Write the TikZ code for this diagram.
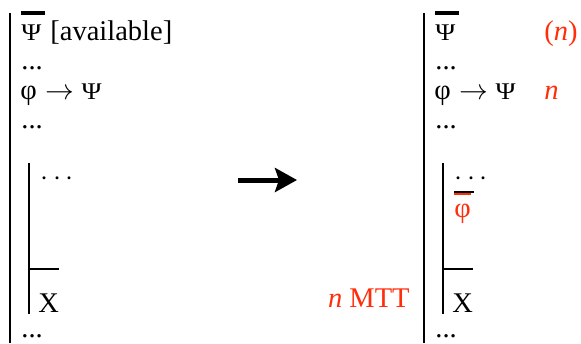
\documentclass[tikz,border=0pt]{standalone}
\usepackage{fontspec}
\setmainfont{Liberation Serif}
\usetikzlibrary{arrows.meta}
\definecolor{mttred}{RGB}{255,45,10}
\newcommand{\psiglyph}{\scalebox{0.95}[0.84]{Ψ}}

\begin{document}
\begin{tikzpicture}[x=0.5pt,y=-0.5pt,font=\fontsize{14.25}{17}\selectfont,
  txt/.style={anchor=base west,inner sep=0pt},
  rule/.style={line width=1.1pt},
  neg/.style={line width=2pt}]
\useasboundingbox (0,0) rectangle (581,343);
% the two derivations share the same skeleton
\foreach \x/\sd in {0/l,414/r}{
  \begin{scope}[shift={(\x,0)}]
    \draw[rule] (10,13)--(10,343);
    \node[txt] (psi\sd) at (21,40) {\psiglyph};
    \draw[neg] (21,12.5)--(45,12.5);
    \node[txt] (dotsa\sd) at (21,69) {...};
    \node[txt] (impl\sd) at (20,99) {φ\hspace{4.5pt}$\rightarrow$\hspace{3.5pt}\psiglyph};
    \node[txt] (dotsb\sd) at (21,128) {...};
    % inner subproof
    \draw[rule] (29,163)--(29,314);
    \draw[rule] (29,269)--(59,269);
    \node[txt] (cdots\sd) at (40,185) {$\cdots$};
    \node[txt] (absurd\sd) at (38,312) {X};
    \node[txt] (dotsc\sd) at (21,337) {...};
  \end{scope}
}
\node[txt] (avail) at (50,40) {[available]};
% transformation
\coordinate (from) at (238,180);
\coordinate (to) at (297,180);
\draw[line width=2.5pt,-{Stealth[length=11pt,width=12pt,inset=2pt]}] (from)--(to);
% added steps on the right
\node[txt,mttred] (step) at (544,40) {(\textit{n})};
\node[txt,mttred] (stepn) at (544,99) {\textit{n}};
\draw[line width=1pt] (454,191.5)--(474,191.5);
\draw[line width=1.2pt,mttred] (454,194)--(471,194);
\node[txt,mttred] (phi) at (454,217) {φ};
\node[anchor=base east,inner sep=0pt,mttred] (mtt) at (410,307) {\textit{n} MTT};
\end{tikzpicture}
\end{document}
